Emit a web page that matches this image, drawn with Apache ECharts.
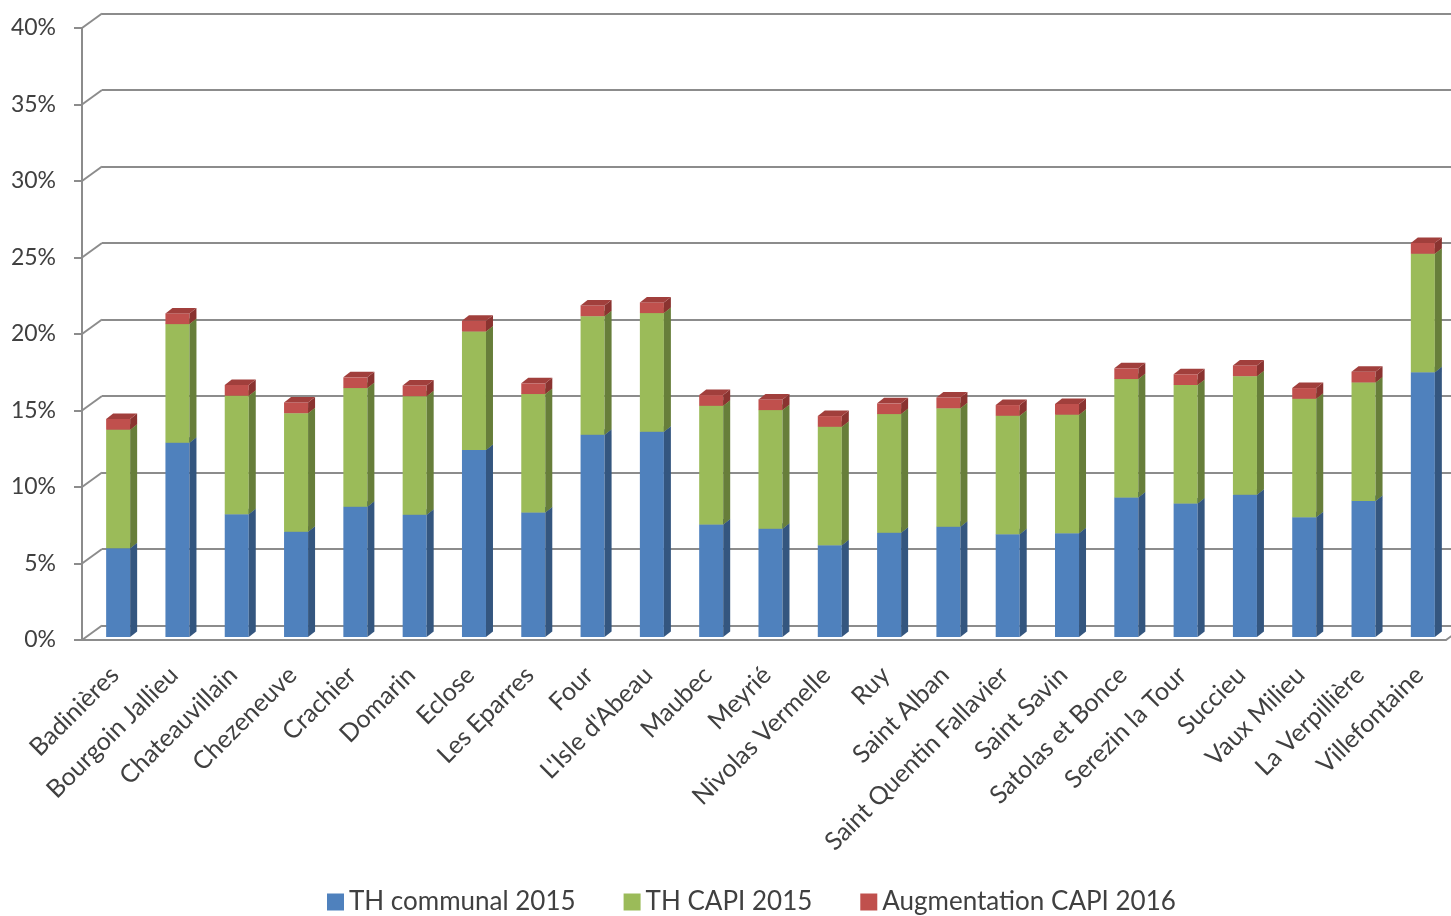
<!DOCTYPE html>
<html>
<head>
<meta charset="utf-8">
<script src="https://cdn.jsdelivr.net/npm/echarts@6/dist/echarts.min.js"></script>
<style>
  html, body { margin: 0; padding: 0; background: #fff; }
  #chart { width: 1451px; height: 916px; }
</style>
</head>
<body>
<div id="chart"></div>
<script>
// communes (x axis)
const communes = [
  "Badinières", "Bourgoin Jallieu", "Chateauvillain", "Chezeneuve", "Crachier",
  "Domarin", "Eclose", "Les Eparres", "Four", "L'Isle d'Abeau", "Maubec",
  "Meyrié", "Nivolas Vermelle", "Ruy", "Saint Alban", "Saint Quentin Fallavier",
  "Saint Savin", "Satolas et Bonce", "Serezin la Tour", "Succieu", "Vaux Milieu",
  "La Verpillière", "Villefontaine"
];
// values in %
const thCommunal = [5.80, 12.70, 8.02, 6.88, 8.52, 7.99, 12.22, 8.13, 13.22, 13.42, 7.36,
  7.08, 5.99, 6.82, 7.20, 6.71, 6.78, 9.11, 8.72, 9.30, 7.82, 8.89, 17.30];
const thCapi = [7.75, 7.75, 7.75, 7.75, 7.75, 7.75, 7.75, 7.75, 7.75, 7.75, 7.75,
  7.75, 7.75, 7.75, 7.75, 7.75, 7.75, 7.75, 7.75, 7.75, 7.75, 7.75, 7.75];
const augmentation = [0.70, 0.70, 0.70, 0.70, 0.70, 0.70, 0.70, 0.70, 0.70, 0.70, 0.70,
  0.70, 0.70, 0.70, 0.70, 0.70, 0.70, 0.70, 0.70, 0.70, 0.70, 0.70, 0.70];
const yTicks = [0, 5, 10, 15, 20, 25, 30, 35, 40];

const seriesNames = ["TH communal 2015", "TH CAPI 2015", "Augmentation CAPI 2016"];
// front, side, top
const palette = [
  ["#4F81BD", "#34567F", "#3E6799"],
  ["#9BBB59", "#677E3A", "#7D9845"],
  ["#C0504D", "#8A3330", "#A13F3C"]
];

const LABEL_FONT = "Lato, 'Open Sans', sans-serif";
const GRID_COLOR = "#8c8c8c";
// wall depth offset
const WALL_DX = 20, WALL_DY = 14.5;

// stack segments -> [index, bottom, top]
function stackData(layers) {
  const out = layers.map(() => []);
  communes.forEach((c, i) => {
    let base = 0;
    layers.forEach((arr, k) => {
      out[k].push([i, base, base + arr[i]]);
      base += arr[i];
    });
  });
  return out;
}
const stacked = stackData([thCommunal, thCapi, augmentation]);

function bar3d(colors) {
  return function (params, api) {
    const i = api.value(0);
    const lo = api.coord([i, api.value(1)]);
    const hi = api.coord([i, api.value(2)]);
    const band = api.size([1, 0])[0];
    const x0 = lo[0] - band * 0.093;
    const w = band * 0.405;
    const y0 = lo[1] - 3, y1 = hi[1] - 3;
    const dx = 7, dy = 5.5;
    return {
      type: "group",
      children: [
        { type: "rect", shape: { x: x0, y: y1, width: w, height: y0 - y1 }, style: { fill: colors[0] } },
        { type: "polygon", shape: { points: [[x0 + w, y1], [x0 + w + dx, y1 - dy], [x0 + w + dx, y0 - dy], [x0 + w, y0]] }, style: { fill: colors[1] } },
        { type: "polygon", shape: { points: [[x0, y1], [x0 + dx, y1 - dy], [x0 + w + dx, y1 - dy], [x0 + w, y1]] }, style: { fill: colors[2] } }
      ]
    };
  };
}

// side wall diagonals for each tick + right floor edge
function wallEdges(params, api) {
  const v = api.value(0);
  const band = api.size([1, 0])[0];
  const p = api.coord([0, v]);
  const xl = p[0] - band / 2;
  const lines = [
    { type: "line", shape: { x1: xl, y1: p[1], x2: xl + WALL_DX, y2: p[1] - WALL_DY }, style: { stroke: GRID_COLOR, lineWidth: 2 } }
  ];
  if (v === 0) {
    const q = api.coord([communes.length - 1, 0]);
    const xr = q[0] + band / 2;
    lines.push({ type: "line", shape: { x1: xr, y1: q[1], x2: xr + WALL_DX, y2: q[1] - WALL_DY }, style: { stroke: GRID_COLOR, lineWidth: 2 } });
  }
  return { type: "group", children: lines };
}

const chart = echarts.init(document.getElementById("chart"));
chart.setOption({
  animation: false,
  backgroundColor: "#fff",
  grid: [
    { left: 82, right: 5, top: 28, bottom: 276 },
    { left: 82 + WALL_DX, right: 0, top: 28 - WALL_DY, bottom: 276 + WALL_DY },
    // same as grid 0, nudged right: carries only the category labels
    { left: 85, right: 2, top: 28, bottom: 276 }
  ],
  xAxis: [
    {
      type: "category",
      gridIndex: 0,
      data: communes,
      boundaryGap: true,
      axisLine: { lineStyle: { color: GRID_COLOR, width: 2 } },
      axisTick: { length: 8, interval: 0, lineStyle: { color: GRID_COLOR, width: 2 } },
      axisLabel: { show: false },
      z: 5
    },
    { type: "value", gridIndex: 1, show: false, min: 0, max: 1 },
    {
      type: "category",
      gridIndex: 2,
      data: communes,
      boundaryGap: true,
      axisLine: { show: false },
      axisTick: { show: false },
      axisLabel: {
        interval: 0, rotate: 45, margin: 31,
        fontFamily: LABEL_FONT, fontSize: 25, color: "#404040"
      }
    }
  ],
  yAxis: [
    {
      type: "value",
      gridIndex: 0,
      min: 0, max: 40, interval: 5,
      axisLine: { show: true, lineStyle: { color: GRID_COLOR, width: 2 } },
      axisTick: { show: true, length: 8, lineStyle: { color: GRID_COLOR, width: 2 } },
      splitLine: { show: false },
      axisLabel: {
        margin: 26, formatter: "{value}%",
        fontFamily: LABEL_FONT, fontSize: 23, color: "#404040"
      }
    },
    {
      type: "value",
      gridIndex: 1,
      min: 0, max: 40, interval: 5,
      axisLine: { show: false },
      axisTick: { show: false },
      axisLabel: { show: false },
      splitLine: { show: true, lineStyle: { color: GRID_COLOR, width: 2 } }
    },
    { type: "value", gridIndex: 2, show: false, min: 0, max: 40 }
  ],
  legend: {
    data: seriesNames,
    top: 884,
    left: 322,
    icon: "rect",
    itemWidth: 17,
    itemHeight: 17,
    itemGap: 48,
    textStyle: { fontFamily: LABEL_FONT, fontSize: 26, color: "#404040" }
  },
  series: [
    {
      type: "custom",
      name: "walls",
      xAxisIndex: 0, yAxisIndex: 0,
      data: yTicks.map(v => [v]),
      encode: { y: 0 },
      renderItem: wallEdges,
      silent: true,
      z: 1
    }
  ].concat(stacked.map((d, k) => ({
    type: "custom",
    name: seriesNames[k],
    xAxisIndex: 0, yAxisIndex: 0,
    data: d,
    encode: { x: 0, y: [1, 2] },
    itemStyle: { color: palette[k][0] },
    renderItem: bar3d(palette[k]),
    z: 3
  })))
});
</script>
</body>
</html>
